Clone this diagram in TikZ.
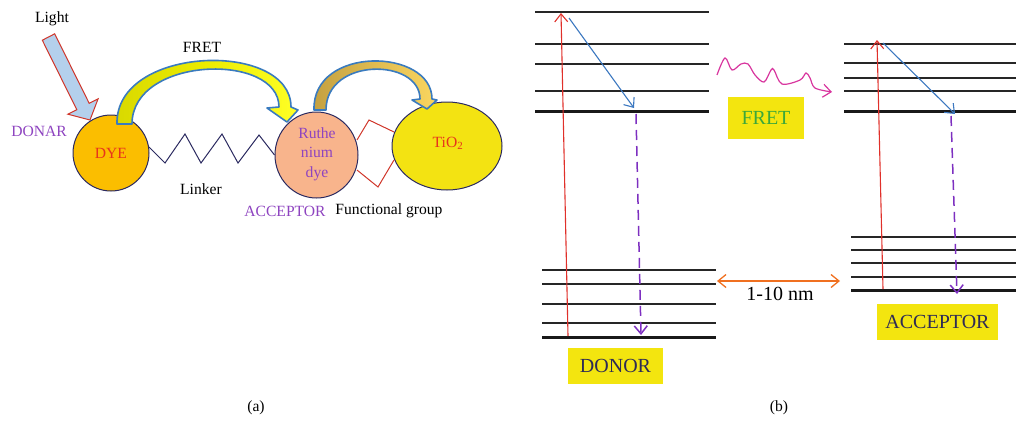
\documentclass[tikz,border=0pt]{standalone}
\usepackage{fontspec}
\setmainfont{Liberation Serif}
\usetikzlibrary{arrows.meta,shapes.geometric}
\definecolor{navy}{HTML}{2B2A60}
\definecolor{lblue}{HTML}{B4D0EC}
\definecolor{rred}{HTML}{D0362A}
\definecolor{dyeor}{HTML}{FBBE00}
\definecolor{peach}{HTML}{F8B48C}
\definecolor{tioy}{HTML}{F3E312}
\definecolor{purp}{HTML}{8E44C0}
\definecolor{txtred}{HTML}{E8341C}
\definecolor{arcblue}{HTML}{3A7BBF}
\definecolor{boxy}{HTML}{F3E50F}
\definecolor{boxtxt}{HTML}{2E2B55}
\definecolor{fretg}{HTML}{3CA83A}
\definecolor{magw}{HTML}{D8359E}
\definecolor{orng}{HTML}{F07020}
\definecolor{dpurp}{HTML}{7D2FC0}
\definecolor{bluea}{HTML}{3C78C0}
\definecolor{redarr}{HTML}{E0302A}
\tikzset{
  lab/.style={font=\fontsize{15.6}{18}\selectfont, inner sep=0pt},
  blab/.style={font=\fontsize{20}{24}\selectfont, inner sep=0pt},
  lvl/.style={line width=1.3pt, black!85},
  lvlthick/.style={line width=3pt, black!90},
  tipb/.style={-{Straight Barb[length=8pt,width=13pt]}},
  ybox/.style={fill=boxy, draw=none, inner sep=0pt, text=boxtxt, font=\fontsize{20}{24}\selectfont},
  mol/.style={draw=navy, line width=1pt}
}
\begin{document}
\begin{tikzpicture}[x=1pt,y=-1pt]
\useasboundingbox (0,0) rectangle (1016,421);

% ---------- panel (a) ----------
\node[lab] (light) at (52,19) {Light};
\filldraw[fill=lblue, draw=rred, line width=1pt]
  (42.3,40.2) -- (54.7,33.8) -- (89.2,103.3) -- (98.1,98.8) -- (90,120)
  -- (67.9,114.2) -- (76.8,109.7) -- cycle;

\node[mol, circle, fill=dyeor, minimum size=76pt, inner sep=0pt] (dye) at (111,153) {};
\node[lab, text=txtred] at (dye.center) {DYE};
\node[lab, text=purp] (donar) at (39,131) {DONAR};

\node[mol, ellipse, fill=peach, minimum width=83pt, minimum height=86pt, inner sep=0pt] (ru) at (316.5,155) {};
\node[lab, text=purp, align=center, font=\fontsize{15.6}{19.5}\selectfont] at (317,154) {Ruthe\\nium\\dye};

\node[mol, ellipse, fill=tioy, minimum width=110pt, minimum height=88pt, inner sep=0pt] (tio) at (447,146) {};
\node[lab, text=txtred] at (448,143) {TiO\textsubscript{2}};

% linker
\draw[navy, line width=1pt] (dye.9) -- (165,163) -- (185,134) -- (201,163) -- (222,134)
  -- (238,163) -- (259,135) -- (ru.180);
\node[lab] (linker) at (201,189) {Linker};

% functional group
\draw[rred, line width=1pt] (357,140) -- (369,120) -- (394,132);
\draw[rred, line width=1pt] (394,160) -- (378,187) -- (357,170);

\node[lab, text=purp] (acca) at (285,211) {ACCEPTOR};
\node[lab] (fg) at (389,211) {Functional group};
\node[lab] (freta) at (202,47) {FRET};

% FRET arcs
\path[shade, left color=yellow!70!olive, right color=yellow!85!white]
  (117,124) .. controls (115,45) and (291,40) .. (291,107) -- (298,110) -- (287,122) -- (267,108)
  -- (279,107) .. controls (279,52) and (132,56) .. (132,124) -- cycle;
\draw[arcblue, line width=1.6pt, line join=round]
  (117,124) .. controls (115,45) and (291,40) .. (291,107) -- (298,110) -- (287,122) -- (267,108)
  -- (279,107) .. controls (279,52) and (132,56) .. (132,124) -- cycle;

\path[shade, left color={rgb,255:red,196;green,160;blue,64}, right color={rgb,255:red,250;green,214;blue,96}]
  (314,110) .. controls (312,45) and (432,48) .. (432,99) -- (437,100) -- (427,109) -- (412,100)
  -- (420,99) .. controls (420,58) and (326,57) .. (326,110) -- cycle;
\draw[arcblue, line width=1.6pt, line join=round]
  (314,110) .. controls (312,45) and (432,48) .. (432,99) -- (437,100) -- (427,109) -- (412,100)
  -- (420,99) .. controls (420,58) and (326,57) .. (326,110) -- cycle;

\node[lab] (la) at (256,408) {(a)};

% ---------- panel (b) ----------
% donor levels
\foreach \y in {12,44,64,91} \draw[lvl] (535,\y) -- (709,\y);
\draw[lvlthick] (535,111) -- (709,111);
\foreach \y in {270,284,304,323} \draw[lvl] (542,\y) -- (716,\y);
\draw[lvlthick] (542,337) -- (716,337);
% acceptor levels
\foreach \y in {44,63,78,91} \draw[lvl] (844,\y) -- (1016,\y);
\draw[lvlthick] (844,111) -- (1016,111);
\foreach \y in {237,250,263,277} \draw[lvl] (851,\y) -- (1016,\y);
\draw[lvlthick] (851,290) -- (1016,290);

% donor arrows
\coordinate (dr0) at (568,336);
\coordinate (dr1) at (561,13);
\coordinate (db0) at (569,18);
\coordinate (db1) at (634,108);
\coordinate (dp0) at (636,114);
\coordinate (dp1) at (641,335);
\draw[redarr, line width=1.1pt, tipb] (dr0) -- (dr1);
\draw[bluea, line width=1.1pt, tipb] (db0) -- (db1);
\draw[dpurp, line width=1.5pt, dash pattern=on 10pt off 6pt, tipb] (dp0) -- (dp1);

% acceptor arrows
\coordinate (ar0) at (883,289);
\coordinate (ar1) at (877,40);
\coordinate (ab0) at (883,43);
\coordinate (ab1) at (955,114);
\coordinate (ap0) at (951,116);
\coordinate (ap1) at (957,294);
\draw[redarr, line width=1.1pt, tipb] (ar0) -- (ar1);
\draw[bluea, line width=1.1pt, tipb] (ab0) -- (ab1);
\draw[dpurp, line width=1.5pt, dash pattern=on 10pt off 6pt, tipb] (ap0) -- (ap1);

% boxes
\node[ybox, minimum width=95pt, minimum height=36pt] (donor) at (615.5,366) {DONOR};
\node[ybox, minimum width=76pt, minimum height=42pt, text=fretg] (fretb) at (766,118) {FRET};
\node[ybox, minimum width=121pt, minimum height=36pt] (acceptor) at (937.5,322) {ACCEPTOR};

% wavy FRET line
\draw[magw, line width=1.2pt, tipb] plot[smooth, tension=0.55] coordinates
  {(717,75) (725,58) (732,70) (741,64) (748,64) (755,75) (764,82) (771,70) (774,70)
   (782,84) (800,80) (806,73) (810,78) (815,88) (832,92)};

% distance
\coordinate (dl) at (717,281);
\coordinate (dr) at (840,281);
\draw[orng, line width=1.3pt, {Straight Barb[length=8pt,width=13pt]}-{Straight Barb[length=8pt,width=13pt]}] (dl) -- (dr);
\node[blab] (nm) at (780,294) {1-10 nm};

\node[lab] (lb) at (779,408) {(b)};
\end{tikzpicture}
\end{document}
